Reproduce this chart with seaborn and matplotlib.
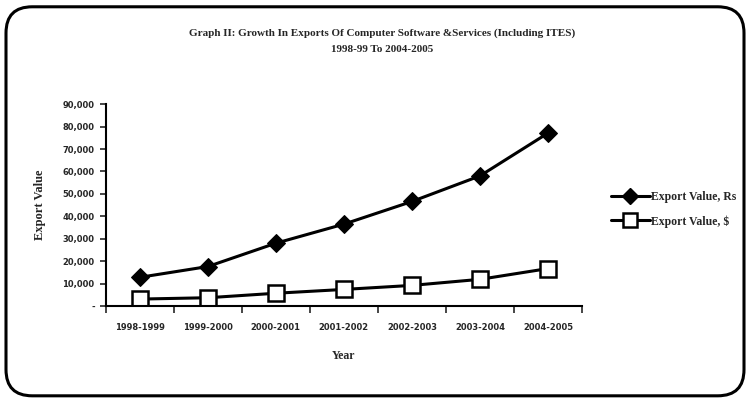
import pandas as pd
import numpy as np
import seaborn as sns
import matplotlib.pyplot as plt
from matplotlib.patches import FancyBboxPatch
from matplotlib.lines import Line2D

# --- data ---
years = ['1998-1999', '1999-2000', '2000-2001', '2001-2002', '2002-2003', '2003-2004', '2004-2005']
export_rs = [12800, 17600, 28000, 36500, 46600, 58000, 77100]
export_usd = [3100, 3700, 5700, 7400, 9200, 11900, 16700]
yticks = [0, 10000, 20000, 30000, 40000, 50000, 60000, 70000, 80000, 90000]
ytick_labels = ['-', '10,000', '20,000', '30,000', '40,000', '50,000', '60,000', '70,000', '80,000', '90,000']

sns.set_style('white')
serif = ['Liberation Serif', 'DejaVu Serif']
plt.rcParams['font.family'] = ['DejaVu Sans']

df = pd.DataFrame({'Year': years, 'rs': export_rs, 'usd': export_usd})

fig = plt.figure(figsize=(7.5, 3.99), dpi=100)
ax = fig.add_axes([0.141, 0.233, 0.635, 0.506])

sns.lineplot(data=df, x='Year', y='rs', ax=ax, color='black', lw=2.2,
             marker='D', markersize=9, markerfacecolor='black', markeredgecolor='black')
sns.lineplot(data=df, x='Year', y='usd', ax=ax, color='black', lw=2.2,
             marker='s', markersize=11, markerfacecolor='white', markeredgecolor='black',
             markeredgewidth=1.8)

ax.set_xlim(-0.5, 6.5)
ax.set_ylim(0, 90000)
ax.set_yticks(yticks)
ax.set_yticklabels(ytick_labels, fontsize=6, fontweight='bold')
ax.set_xticks(range(len(years)))
ax.set_xticklabels(years, fontsize=6, fontweight='bold')
ax.set_xticks(np.arange(-0.5, 7, 1), minor=True)
ax.tick_params(axis='x', which='major', length=0, pad=12)
ax.tick_params(axis='x', which='minor', length=5, width=1.2, direction='out', bottom=True)
ax.tick_params(axis='y', length=4, width=1.2, direction='out', left=True, pad=4)

for s in ['top', 'right']:
    ax.spines[s].set_visible(False)
for s in ['left', 'bottom']:
    ax.spines[s].set_linewidth(1.5)
    ax.spines[s].set_color('black')

ax.set_xlabel('Year', family=serif, fontsize=8.5, fontweight='bold', labelpad=13)
ax.set_ylabel('Export Value', family=serif, fontsize=9, fontweight='bold', labelpad=12)

fig.text(0.51, 0.917, 'Graph II: Growth In Exports Of Computer Software &Services (Including ITES)',
         ha='center', va='center', family=serif, fontsize=8, fontweight='bold')
fig.text(0.51, 0.877, '1998-99 To 2004-2005', ha='center', va='center',
         family=serif, fontsize=8, fontweight='bold')

handles = [
    Line2D([], [], color='black', lw=2.2, marker='D', markersize=8,
           markerfacecolor='black', markeredgecolor='black'),
    Line2D([], [], color='black', lw=2.2, marker='s', markersize=10,
           markerfacecolor='white', markeredgecolor='black', markeredgewidth=1.8),
]
fig.legend(handles, ['Export Value, Rs', 'Export Value, $'], loc='center left',
           bbox_to_anchor=(0.8, 0.475), frameon=False, handlelength=3.3,
           handletextpad=0.1, labelspacing=1.0,
           prop={'family': serif, 'size': 8.5, 'weight': 'bold'})

border = FancyBboxPatch((0.008, 0.008), 0.984, 0.975, boxstyle='round,pad=0,rounding_size=0.035',
                        transform=fig.transFigure, fill=False, edgecolor='black', lw=2.2,
                        mutation_aspect=750 / 399)
fig.patches.append(border)

fig.savefig('out.png', dpi=100)
